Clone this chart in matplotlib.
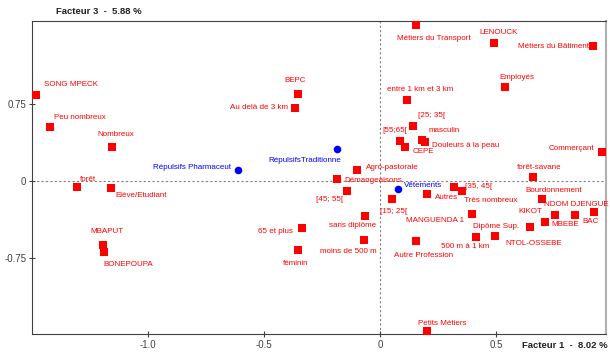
import matplotlib
matplotlib.use("Agg")
import matplotlib.pyplot as plt

plt.rcParams['font.family'] = ['Liberation Sans', 'DejaVu Sans']

# modalities (red squares) and illustrative variables (blue dots)
labels = ["SONG MPECK", "Peu nombreux", "Nombreux", "BEPC", "Au delà de 3 km",
          "Métiers du Transport", "LENOUCK", "Métiers du Bâtiment", "Employés",
          "entre 1 km et 3 km", "[25; 35[", "masculin", "Douleurs à la peau",
          "[55;65[", "CEPE", "Commerçant", "Agro-pastorale", "forêt-savane",
          "Démangeaisons", "forêt", "Elève/Etudiant", "MBAPUT", "BONEPOUPA",
          "65 et plus", "féminin", "[45; 55[", "Autres", "[35, 45[",
          "Très nombreux", "Bourdonnement", "[15; 25[", "sans diplôme",
          "MANGUENDA 1", "KIKOT", "NDOM DJENGUE", "BAC", "MBEBE", "Dipôme Sup.",
          "500 m à 1 km", "NTOL-OSSEBE", "moins de 500 m", "Autre Profession",
          "Petits Métiers"]
f1 = [-1.482, -1.421, -1.154, -0.354, -0.367,
      0.156, 0.489, 0.916, 0.538,
      0.118, 0.142, 0.181, 0.194,
      0.085, 0.109, 0.956, -0.098, 0.659,
      -0.185, -1.306, -1.157, -1.192, -1.187,
      -0.337, -0.353, -0.142, 0.202, 0.319,
      0.352, 0.696, 0.053, -0.066,
      0.395, 0.752, 0.841, 0.921, 0.712, 0.644,
      0.415, 0.496, -0.070, 0.156,
      0.202]
f3 = [0.833, 0.520, 0.332, 0.845, 0.710,
      1.513, 1.339, 1.304, 0.913,
      0.784, 0.535, 0.394, 0.380,
      0.390, 0.332, 0.281, 0.106, 0.039,
      0.015, -0.061, -0.068, -0.620, -0.690,
      -0.452, -0.668, -0.094, -0.126, -0.058,
      -0.100, -0.174, -0.177, -0.336,
      -0.319, -0.326, -0.326, -0.303, -0.394, -0.445,
      -0.539, -0.532, -0.571, -0.578,
      -1.455]

sup_labels = ["Répulsifs Pharmaceut", "RépulsifsTraditionne", "Vêtements"]
sup_f1 = [-0.613, -0.186, 0.079]
sup_f3 = [0.106, 0.313, -0.080]

# label placement (ha, dx px, dy px)
lab_pos = [("left", 8, 10), ("left", 4, 10), ("center", 4, 12), ("center", -3, 13), ("right", -7, 0),
           ("center", 18, -14), ("center", 5, 10), ("right", -4, 0), ("center", 12, 9),
           ("left", -20, 11), ("left", 5, 10), ("left", 6, 10), ("left", 7, -4),
           ("left", -17, 10), ("left", 7, -5), ("right", -8, 4), ("left", 9, 3), ("left", -16, 9),
           ("left", 7, -1), ("left", 3, 8), ("left", 4, -7), ("center", 4, 14), ("left", -1, -12),
           ("right", -9, -4), ("center", -2, -13), ("right", -4, -9), ("left", 8, -3), ("left", 11, 1),
           ("left", 2, -9), ("left", -16, 8), ("left", -12, -12), ("right", 11, -10),
           ("right", -8, -7), ("right", -12, 3), ("left", -31, 10), ("left", -12, -9), ("left", 6, -3),
           ("right", -10, 0),
           ("left", -35, -10), ("left", 10, -8), ("right", 13, -11), ("left", -22, -15),
           ("left", -9, 8)]
sup_pos = [("right", -7, 3), ("right", 4, -12), ("left", 6, 4)]

fig = plt.figure(figsize=(6.1, 3.56), dpi=100)
ax = fig.add_axes([0.0525, 0.0618, 0.941, 0.880])

ax.axhline(0, color='#808080', lw=0.8, ls=(0, (2, 2)), zorder=1)
ax.axvline(0, color='#808080', lw=0.8, ls=(0, (2, 2)), zorder=1)

ax.scatter(f1, f3, marker='s', s=26, color='#ff0000', zorder=3, linewidths=0)
ax.scatter(sup_f1, sup_f3, marker='o', s=30, color='#0000ff', zorder=3, linewidths=0)

for t, x, y, (ha, dx, dy) in zip(labels, f1, f3, lab_pos):
    ax.annotate(t, (x, y), xytext=(dx, dy), textcoords='offset pixels',
                ha=ha, va='center', fontsize=5.8, color='#ff0000')
for t, x, y, (ha, dx, dy) in zip(sup_labels, sup_f1, sup_f3, sup_pos):
    ax.annotate(t, (x, y), xytext=(dx, dy), textcoords='offset pixels',
                ha=ha, va='center', fontsize=5.8, color='#0000ff')

ax.set_xlim(-1.498, 0.973)
ax.set_ylim(-1.481, 1.552)
ax.set_xticks([-1.0, -0.5, 0, 0.5])
ax.set_xticklabels(['-1.0', '-0.5', '0', '0.5'])
ax.set_yticks([-0.75, 0, 0.75])
ax.set_yticklabels(['-0.75', '0', '0.75'])
ax.tick_params(direction='inout', length=4, width=0.8, color='#404040',
               labelsize=7, labelcolor='#404040', pad=2)

for s in ['left', 'bottom', 'top']:
    ax.spines[s].set_color('#404040')
    ax.spines[s].set_linewidth(0.8)
ax.spines['right'].set_color('#b0b0b0')
ax.spines['right'].set_linewidth(1.5)

fig.text(99 / 610, 1 - 11 / 356, "Facteur 3  -  5.88 %", ha='center', va='center',
         fontsize=6.8, fontweight='bold', color='#222222')
fig.text(565 / 610, 1 - 346 / 356, "Facteur 1  -  8.02 %", ha='center', va='center',
         fontsize=6.8, fontweight='bold', color='#222222')

fig.savefig('out.png', dpi=100)
